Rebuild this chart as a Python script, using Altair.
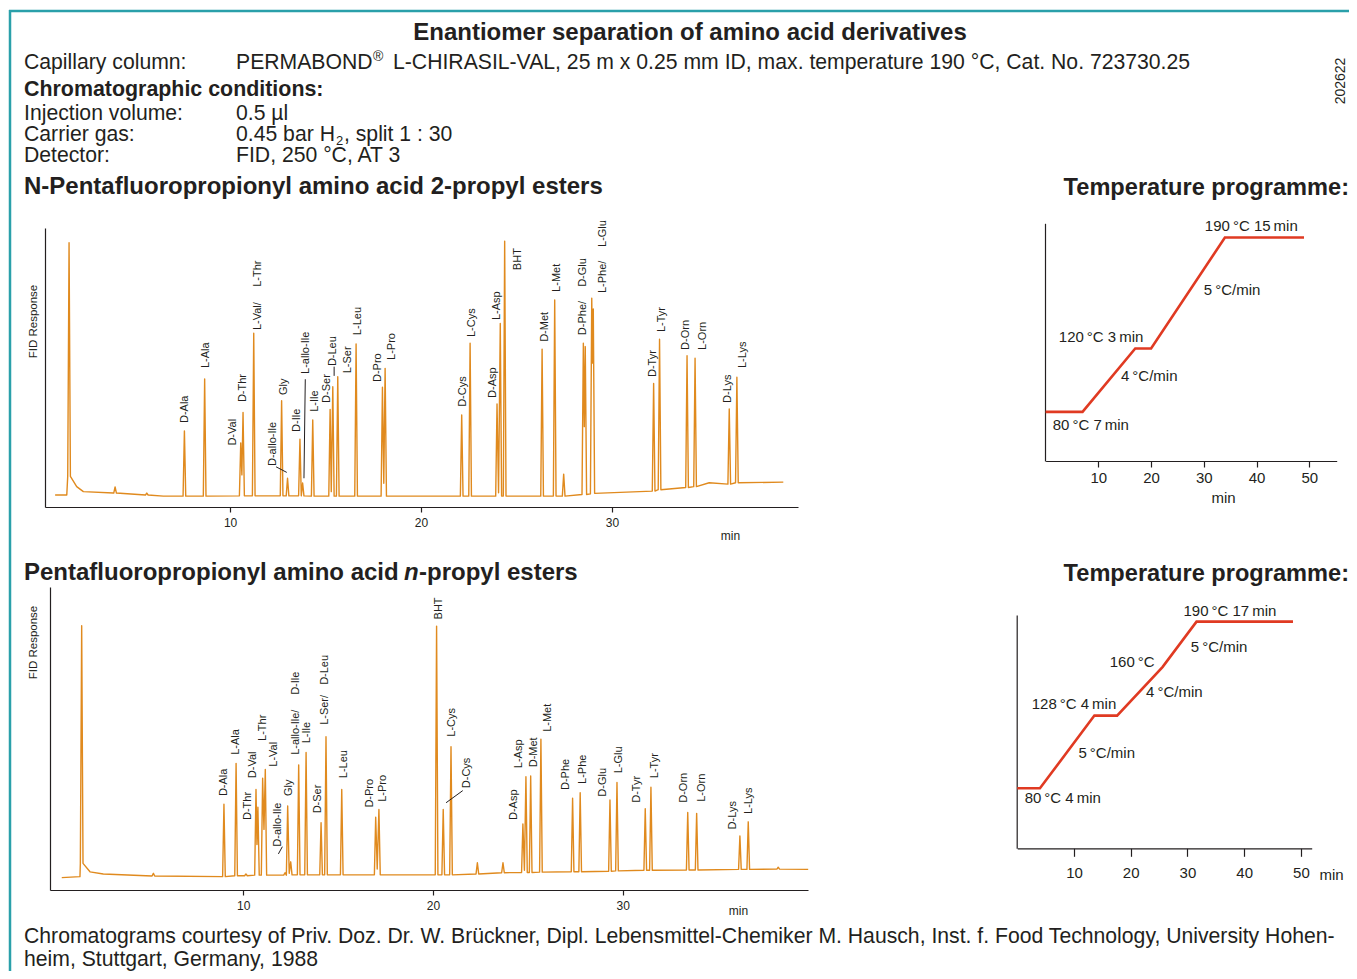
import altair as alt
import pandas as pd

# ---------------------------------------------------------------- data
# Chromatogram 1 : N-PFP amino acid 2-propyl esters (t = min, v = FID response, a.u.)
c1_peak_t = [1.57, 3.98, 5.64, 7.61, 8.67, 10.56, 10.68, 11.24, 12.70, 13.01, 13.66, 13.80,
             14.33, 15.24, 15.38, 15.64, 16.60, 17.98, 18.12, 22.13, 22.57, 23.98, 24.15,
             24.38, 26.34, 27.00, 27.47, 28.50, 28.60, 28.94, 29.02, 32.18, 32.49, 33.93,
             34.35, 36.14, 36.54]
c1_peak_v = [94.7, 7.2, 5.0, 27.3, 45.9, 23.0, 33.9, 62.3, 38.1, 10.3, 24.3, 8.6,
             31.2, 35.0, 43.1, 46.7, 58.4, 42.9, 49.7, 33.0, 58.7, 36.9, 65.8,
             95.3, 56.6, 74.2, 11.8, 58.7, 57.5, 74.8, 71.0, 44.3, 60.1, 54.2,
             53.3, 35.1, 46.5]
c1_peak_base = [11.0, 5.0, 4.3, 3.9, 3.9, 4.0, 4.0, 4.0, 4.0, 4.0, 4.0, 4.0,
                3.9, 3.9, 3.9, 3.9, 3.9, 3.9, 3.9, 3.9, 3.9, 3.9, 3.9,
                3.9, 3.9, 3.9, 3.9, 4.5, 4.5, 4.7, 4.9, 5.7, 6.2, 7.0,
                7.3, 8.2, 8.7]
c1_valley_t = [10.62, 13.73, 15.30, 18.05, 24.06, 28.55, 28.98]
c1_valley_v = [11.5, 4.0, 5.5, 8.5, 5.1, 28.8, 51.6]
c1_extra_t = [0.84, 1.45, 1.97, 2.32, 3.89, 6.51, 35.09, 38.97]
c1_extra_v = [4.3, 4.3, 7.3, 5.5, 5.0, 3.9, 8.7, 8.9]

c1_labels = ["D-Ala", "L-Ala", "D-Val", "D-Thr", "L-Val/", "L-Thr", "D-allo-Ile", "Gly",
             "D-Ile", "L-allo-Ile", "L-Ile", "D-Ser", "D-Leu", "L-Ser", "L-Leu", "D-Pro",
             "L-Pro", "D-Cys", "L-Cys", "D-Asp", "L-Asp", "BHT", "D-Met", "L-Met",
             "D-Phe/", "D-Glu", "L-Phe/", "L-Glu", "D-Tyr", "L-Tyr", "D-Orn", "L-Orn",
             "D-Lys", "L-Lys"]
c1_label_t = [7.64, 8.72, 10.17, 10.68, 11.45, 11.45, 12.25, 12.81, 13.52, 13.98, 14.47,
              15.08, 15.39, 16.16, 16.70, 17.75, 18.48, 22.18, 22.67, 23.77, 23.96, 25.09,
              26.48, 27.10, 28.50, 28.50, 29.51, 29.51, 32.16, 32.62, 33.87, 34.75,
              36.06, 36.87]
c1_label_v = [30.1, 49.8, 22.0, 37.6, 63.4, 78.9, 14.7, 40.1, 26.9, 47.7, 34.1,
              37.3, 50.5, 47.9, 61.6, 44.8, 52.7, 35.9, 60.9, 39.1, 67.0, 84.9,
              59.2, 77.1, 61.6, 78.9, 76.7, 93.2, 46.6, 62.7, 56.3, 56.3,
              37.3, 49.8]
c1_lead_t = [12.41, 13.94, 15.45]
c1_lead_v = [14.4, 45.8, 50.3]
c1_lead_t2 = [12.97, 13.87, 15.45]
c1_lead_v2 = [12.4, 10.3, 47.0]

# Chromatogram 2 : PFP amino acid n-propyl esters
c2_peak_t = [1.48, 5.26, 8.98, 9.62, 10.14, 10.67, 10.77, 11.02, 11.16, 12.20, 12.34,
             12.50, 12.92, 13.31, 14.10, 14.36, 15.19, 16.98, 17.15, 20.19, 20.54,
             20.95, 22.34, 23.69, 24.74, 24.90, 25.15, 25.69, 27.36, 27.76, 29.33,
             29.70, 31.19, 31.49, 33.43, 33.90, 36.18, 36.62, 38.20]
c2_peak_v = [87.2, 5.5, 28.3, 41.8, 5.3, 33.2, 27.3, 36.9, 39.8, 5.7, 27.7,
             9.3, 41.3, 45.4, 22.2, 50.6, 33.2, 24.0, 26.6, 87.1, 26.6,
             47.3, 9.0, 9.0, 21.8, 37.4, 37.6, 49.8, 30.3, 32.1, 29.7,
             35.5, 26.8, 33.9, 25.6, 25.3, 17.8, 22.5, 7.5]
c2_peak_base = [8.8, 4.6, 4.4, 4.7, 4.7, 4.9, 4.9, 4.9, 4.9, 4.9, 5.0,
                5.0, 5.0, 5.0, 5.0, 5.0, 5.0, 5.0, 5.0, 5.0, 5.0,
                5.0, 5.3, 5.7, 5.8, 5.8, 5.8, 5.9, 6.0, 6.0, 6.2,
                6.3, 6.5, 6.5, 6.6, 6.6, 6.8, 6.8, 6.9]
c2_valley_t = [10.72, 11.09, 12.27, 12.42, 17.06, 24.82]
c2_valley_v = [15.0, 20.0, 4.9, 5.5, 6.9, 6.5]
c2_extra_t = [0.43, 1.39, 1.92, 2.62, 39.78]
c2_extra_v = [4.1, 4.4, 6.0, 5.3, 6.8]

c2_labels = ["D-Ala", "L-Ala", "D-Thr", "D-Val", "L-Thr", "L-Val", "D-allo-Ile", "Gly",
             "L-allo-Ile/", "D-Ile", "L-Ile", "D-Ser", "L-Ser/", "D-Leu", "L-Leu", "D-Pro",
             "L-Pro", "BHT", "L-Cys", "D-Cys", "D-Asp", "L-Asp", "D-Met", "L-Met", "D-Phe",
             "L-Phe", "D-Glu", "L-Glu", "D-Tyr", "L-Tyr", "D-Orn", "L-Orn", "D-Lys", "L-Lys"]
c2_label_t = [8.98, 9.62, 10.26, 10.50, 11.02, 11.63, 11.81, 12.42, 12.76, 12.76, 13.37,
              13.95, 14.32, 14.32, 15.31, 16.68, 17.35, 20.33, 20.99, 21.78, 24.29, 24.55,
              25.32, 26.05, 27.01, 27.92, 28.95, 29.81, 30.74, 31.70, 33.23, 34.16,
              35.83, 36.67]
c2_label_v = [31.0, 44.6, 23.1, 36.9, 49.2, 40.7, 14.3, 31.0, 44.6, 64.4, 48.4,
              25.3, 54.5, 67.7, 36.9, 27.2, 29.1, 89.3, 50.6, 33.6, 23.1, 40.2,
              40.5, 52.2, 33.0, 35.0, 30.8, 38.5, 28.8, 36.9, 28.8, 29.1,
              20.0, 25.1]
c2_lead_t = [11.85, 20.69]
c2_lead_v = [11.9, 28.8]
c2_lead_t2 = [12.06, 21.57]
c2_lead_v2 = [14.3, 32.8]

# Temperature programmes (min, degC)
tp1_t = [0, 7, 17, 20, 34, 49]
tp1_T = [80, 80, 120, 120, 190, 190]
tp1_text = ["190\u2009°C 15\u2009min", "5\u2009°C/min", "120\u2009°C 3\u2009min",
            "4\u2009°C/min", "80\u2009°C  7\u2009min"]
tp1_text_t = [30.2, 30.0, 2.5, 14.3, 1.35]
tp1_text_T = [197.2, 156.8, 127.1, 102.5, 71.6]

tp2_t = [0, 4, 13.6, 17.6, 25.6, 31.6, 48.6]
tp2_T = [80, 80, 128, 128, 160, 190, 190]
tp2_text = ["190\u2009°C 17\u2009min", "5\u2009°C/min", "160\u2009°C", "4\u2009°C/min",
            "128\u2009°C 4\u2009min", "5\u2009°C/min", "80\u2009°C 4\u2009min"]
tp2_text_t = [29.3, 30.6, 16.3, 22.7, 2.55, 10.8, 1.3]
tp2_text_T = [197.2, 173.0, 163.1, 143.3, 135.7, 103.6, 73.9]

chrom_ticks = [10, 20, 30]
temp_ticks = [10, 20, 30, 40, 50]

# ---------------------------------------------------------------- style
W, H = 1341, 963
FONT = "Liberation Sans"
INK = "#231f20"
ORANGE = "#e08a1e"
RED = "#e03a22"
TEAL = "#2aa0aa"
REG = 21.2      # regular header text size
BOLD = 24       # bold headline size


def trace(pt, pv, pb, vt, vv, et, ev, hw=0.07):
    rows = []
    n = len(pt)
    for i in range(n):
        t, v, b = pt[i], pv[i], pb[i]
        left_blocked = i > 0 and any(pt[i - 1] < x < t for x in vt)
        right_blocked = i < n - 1 and any(t < x < pt[i + 1] for x in vt)
        if not left_blocked:
            rows.append((t - hw, b))
        rows.append((t, v))
        if not right_blocked:
            rows.append((t + hw, b))
    rows += list(zip(vt, vv)) + list(zip(et, ev))
    rows.sort(key=lambda r: r[0])
    return pd.DataFrame({"t": [r[0] for r in rows], "v": [r[1] for r in rows],
                         "i": list(range(len(rows)))})


def sc(domain, rng):
    return alt.Scale(domain=domain, range=rng, nice=False, zero=False)


def x_axis(values, offset, tick, pad, fs, title, tx, ty):
    return alt.Axis(values=values, orient="bottom", offset=offset, grid=False,
                    domainColor=INK, domainWidth=1.2, tickColor=INK, tickWidth=1.2,
                    tickSize=tick, labelFont=FONT, labelFontSize=fs, labelColor=INK,
                    labelPadding=pad, format="d", title=title, titleX=tx, titleY=ty,
                    titleFont=FONT, titleFontSize=fs, titleFontWeight="normal",
                    titleColor=INK, titleBaseline="middle", titleAlign="center")


def y_axis(offset, title=None, tx=0, ty=0):
    kw = dict(orient="left", offset=offset, grid=False, ticks=False, labels=False,
              domainColor=INK, domainWidth=1.2)
    if title:
        kw.update(title=title, titleX=tx, titleY=ty, titleFont=FONT, titleFontSize=11.5,
                  titleFontWeight="normal", titleColor=INK, titleAngle=270,
                  titleBaseline="middle", titleAlign="center")
    else:
        kw.update(title=None)
    return alt.Axis(**kw)


def chromatogram(df, lab, lead, xd, xr, yr, xoff, yoff, ytitle_x, ytitle_y, min_x, min_y):
    xsc, ysc = sc(xd, xr), sc([0, 100], yr)
    line = alt.Chart(df).mark_line(color=ORANGE, strokeWidth=1.4, strokeJoin="round").encode(
        x=alt.X("t:Q", scale=xsc,
                axis=x_axis(chrom_ticks, xoff, 5, 5, 12, "min", min_x, min_y)),
        y=alt.Y("v:Q", scale=ysc, axis=y_axis(yoff, "FID Response", ytitle_x, ytitle_y)),
        order="i:Q")
    text = alt.Chart(lab).mark_text(angle=270, align="left", baseline="middle",
                                    font=FONT, fontSize=11, color=INK).encode(
        x=alt.X("t:Q", scale=xsc, axis=None),
        y=alt.Y("v:Q", scale=ysc, axis=None),
        text="label:N")
    rules = alt.Chart(lead).mark_rule(color=INK, strokeWidth=1).encode(
        x=alt.X("t:Q", scale=xsc, axis=None), x2="t2:Q",
        y=alt.Y("v:Q", scale=ysc, axis=None), y2="v2:Q")
    return [line, text, rules]


def temp_prog(t, T, txt, tt, tT, xd, xr, yd, yr, xoff, yoff, tick, pad, tx, ty):
    xsc, ysc = sc(xd, xr), sc(yd, yr)
    line = alt.Chart(pd.DataFrame({"t": t, "T": T})).mark_line(
        color=RED, strokeWidth=2.6, strokeJoin="miter").encode(
        x=alt.X("t:Q", scale=xsc, axis=x_axis(temp_ticks, xoff, tick, pad, 15, "min", tx, ty)),
        y=alt.Y("T:Q", scale=ysc, axis=y_axis(yoff)))
    ann = alt.Chart(pd.DataFrame({"t": tt, "T": tT, "s": txt})).mark_text(
        align="left", baseline="middle", font=FONT, fontSize=15, color=INK).encode(
        x=alt.X("t:Q", scale=xsc, axis=None),
        y=alt.Y("T:Q", scale=ysc, axis=None),
        text="s:N")
    return [line, ann]


def label(s, x, y, size=REG, weight="normal", align="left", style="normal", angle=0,
          baseline="alphabetic"):
    # x, y given in page pixels; the chart starts 8px in from the page corner
    kw = dict(align=align, baseline=baseline, font=FONT, fontSize=size,
              fontWeight=weight, fontStyle=style, color=INK)
    if angle:
        kw["angle"] = angle
    return alt.Chart(pd.DataFrame({"s": [s]})).mark_text(**kw).encode(
        text="s:N", x=alt.value(x - 8), y=alt.value(y - 8))


def frame_rule(**enc):
    return alt.Chart(pd.DataFrame({"a": [0]})).mark_rule(color=TEAL, strokeWidth=2.5).encode(**enc)


# ---------------------------------------------------------------- chart pieces
c1_df = trace(c1_peak_t, c1_peak_v, c1_peak_base, c1_valley_t, c1_valley_v, c1_extra_t, c1_extra_v)
c2_df = trace(c2_peak_t, c2_peak_v, c2_peak_base, c2_valley_t, c2_valley_v, c2_extra_t, c2_extra_v)
c1_lab = pd.DataFrame({"t": c1_label_t, "v": c1_label_v, "label": c1_labels})
c2_lab = pd.DataFrame({"t": c2_label_t, "v": c2_label_v, "label": c2_labels})
c1_lead = pd.DataFrame({"t": c1_lead_t, "v": c1_lead_v, "t2": c1_lead_t2, "v2": c1_lead_v2})
c2_lead = pd.DataFrame({"t": c2_lead_t, "v": c2_lead_v, "t2": c2_lead_t2, "v2": c2_lead_v2})

layers = []
layers += chromatogram(c1_df, c1_lab, c1_lead, [0.31, 39.74], [37, 790], [499, 220],
                       499 - H, -37, -12, 313, 722, 28)
layers += chromatogram(c2_df, c2_lab, c2_lead, [-0.19, 39.77], [42, 800], [882, 579],
                       882 - H, -42, -16.5, 634, 730, 20)
layers += temp_prog(tp1_t, tp1_T, tp1_text, tp1_text_t, tp1_text_T, [0, 55.2],
                    [1037.6, 1328.7], [49, 199], [453, 215.3], 453 - H, -1037,
                    6, 3, 1215, 36)
layers += temp_prog(tp2_t, tp2_T, tp2_text, tp2_text_t, tp2_text_T, [0, 51.9],
                    [1009.25, 1303.7], [40.4, 194.4], [840.3, 607], 840.3 - H, -1008.7,
                    8, 9, 1323, 26)

layers += [
    frame_rule(x=alt.value(2), y=alt.value(2), y2=alt.value(H)),
    frame_rule(x=alt.value(1), x2=alt.value(W), y=alt.value(3)),
    label("Enantiomer separation of amino acid derivatives", 690, 40, BOLD, "bold", "center"),
    label("Capillary column:", 24, 69),
    label("PERMABOND", 236, 69),
    label("®", 373, 61, 14),
    label("L-CHIRASIL-VAL, 25 m x 0.25 mm ID, max. temperature 190 °C, Cat. No. 723730.25", 393, 69),
    label("Chromatographic conditions:", 24, 96, 21.4, "bold"),
    label("Injection volume:", 24, 120),
    label("0.5 µl", 236, 120),
    label("Carrier gas:", 24, 141),
    label("0.45 bar H", 236, 141),
    label("2", 336, 144.5, 13),
    label(", split 1 : 30", 344, 141),
    label("Detector:", 24, 162),
    label("FID, 250 °C, AT 3", 236, 162),
    label("N-Pentafluoropropionyl amino acid 2-propyl esters", 24, 194, BOLD, "bold"),
    label("Temperature programme:", 1349, 195, 23.6, "bold", "right"),
    label("Pentafluoropropionyl amino acid", 24, 580, BOLD, "bold"),
    label("n", 404, 580, BOLD, "bold", style="italic"),
    label("-propyl esters", 419, 580, BOLD, "bold"),
    label("Temperature programme:", 1349, 581, 23.6, "bold", "right"),
    label("202622", 1341, 81, 14, angle=270, align="center", baseline="middle"),
    label("Chromatograms courtesy of Priv. Doz. Dr. W. Brückner, Dipl. Lebensmittel-Chemiker "
          "M. Hausch, Inst. f. Food Technology, University Hohen-", 24, 943),
    label("heim, Stuttgart, Germany, 1988", 24, 966),
]

chart = alt.layer(*layers).resolve_scale(x="independent", y="independent").properties(
    width=W, height=H, autosize=alt.AutoSizeParams(type="none"), padding=0,
    background="white").configure_view(stroke=None)

chart.save("out.html", embed_options={"renderer": "svg", "actions": False})
